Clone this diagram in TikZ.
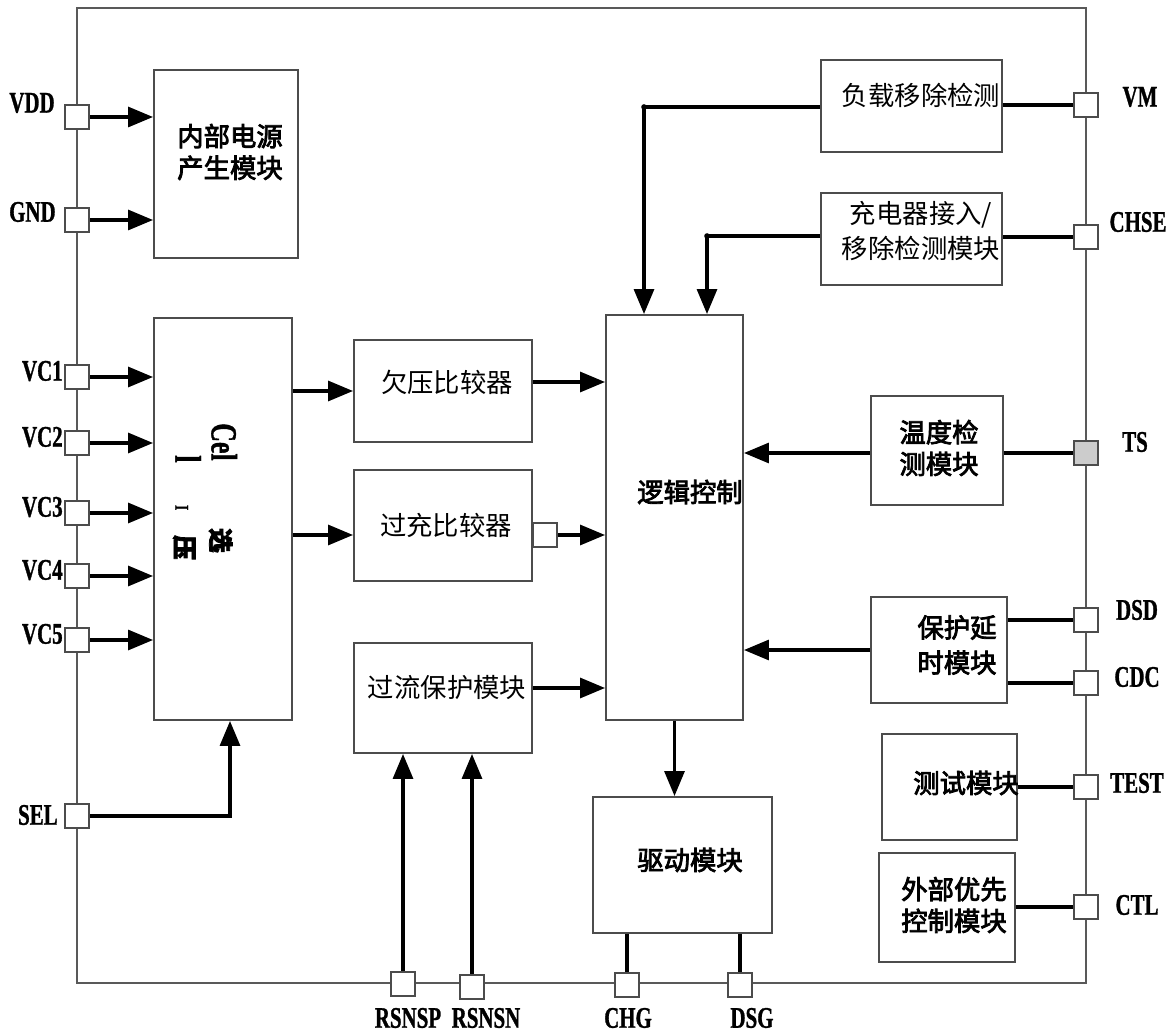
\documentclass[tikz,border=0pt]{standalone}
\usepackage{fontspec}
\setmainfont{Liberation Serif}
\newfontfamily\cjk{Noto Sans CJK SC}
\newfontfamily\cjkbf[FakeBold=3]{Noto Sans CJK SC}
\newfontfamily\padfont[FakeStretch=0.7, FakeBold=1]{Liberation Serif}
\usetikzlibrary{positioning, arrows.meta, fit}

\begin{document}
\begin{tikzpicture}[
    x=0.02cm, y=-0.02cm,
    >={Triangle[length=0.5cm, width=0.4cm]},
    % Styles for the chip blocks
    block/.style={rectangle, draw=black!70, line width=1.1pt, inner sep=0pt},
    zh/.style={font=\cjk\fontsize{15}{18}\selectfont, align=center, inner sep=0pt},
    zhb/.style={font=\cjkbf\fontsize{15}{18}\selectfont, align=center, inner sep=0pt},
    padsq/.style={rectangle, draw=black!70, line width=1.2pt, fill=white,
            minimum size=0.48cm, inner sep=0pt},
    padname/.style={font=\padfont\bfseries\fontsize{17}{17}\selectfont, inner sep=0pt},
    sig/.style={->, line width=1.8pt},
    wire/.style={line width=1.8pt},
  ]

  \useasboundingbox (0,0) rectangle (1176,1033);

  % === CHIP OUTLINE ===
  \draw[draw=black!65, line width=0.9pt] (77,8) rectangle (1086,983);

  % === BLOCKS ===
  \node[block, fit={(154,70) (298,258)}] (pwr) {};
  \node[block, fit={(154,318) (292,720)}] (cell) {};
  \node[block, fit={(354,340) (532,442)}] (uvc) {};
  \node[block, fit={(354,470) (532,581)}] (ovc) {};
  \node[block, fit={(354,643) (532,753)}] (ocp) {};
  \node[block, fit={(606,315) (743,720)}] (logic) {};
  \node[block, fit={(821,60) (1002,152)}] (ldet) {};
  \node[block, fit={(821,193) (1002,285)}] (cdet) {};
  \node[block, fit={(871,396) (1003,505)}] (temp) {};
  \node[block, fit={(871,597) (1007,703)}] (dly) {};
  \node[block, fit={(882,734) (1017,840)}] (tst) {};
  \node[block, fit={(879,853) (1015,962)}] (ext) {};
  \node[block, fit={(593,797) (772,933)}] (drv) {};

  % block texts
  \node[zhb] (pwrt) at (230,152) {内部电源\\产生模块};
  \node[padname, rotate=-90, anchor=west, font=\padfont\bfseries\fontsize{21}{21}\selectfont]
    (cellta) at (223,423) {Cel\hspace{1.35cm}{\cjkbf\fontsize{14}{14}\selectfont 选}};
  \node[padname, rotate=-90, anchor=west, font=\padfont\bfseries\fontsize{21}{21}\selectfont]
    (celltb) at (187,455) {l\hspace{0.85cm}{\fontsize{11}{11}\selectfont I}\hspace{0.5cm}{\cjkbf\fontsize{14}{14}\selectfont 压}};
  \node[zh] (uvct) at (447,382) {欠压比较器};
  \node[zh] (ovct) at (446,525) {过充比较器};
  \node[zh] (ocpt) at (447,688) {过流保护模块};
  \node[zhb] (logict) at (690,492) {逻辑控制};
  \node[zh] (ldett) at (921,95) {负载移除检测};
  \node[zh, font=\cjk\fontsize{15}{20}\selectfont] (cdett) at (921,231) {充电器接入/\\移除检测模块};
  \node[zhb] (tempt) at (939,448) {温度检\\测模块};
  \node[zhb, font=\cjkbf\fontsize{15}{20}\selectfont] (dlyt) at (957,645) {保护延\\时模块};
  \node[zhb] (tstt) at (966,783) {测试模块};
  \node[zhb] (extt) at (954,905) {外部优先\\控制模块};
  \node[zhb] (drvt) at (690,860) {驱动模块};

  % === PADS ===
  \node[padsq] (vdd) at (77,117) {};
  \node[padsq] (gnd) at (77,220) {};
  \node[padsq] (sel) at (77,816) {};
  \node[padname, anchor=east] (vddn) at (55,103) {VDD};
  \node[padname, anchor=east] (gndn) at (56,212) {GND};
  \node[padname, anchor=east] (seln) at (58,815) {SEL};
  \foreach \i/\y in {1/377, 2/443, 3/513, 4/576, 5/640} {
    \node[padsq] (vc\i) at (77,\y) {};
    \node[padname, anchor=east] (vc\i n) at (63,\y-6) {VC\i};
    \draw[sig] (vc\i) -- (vc\i -| cell.west);
  }

  \node[padsq] (vm) at (1086,105) {};
  \node[padsq] (chse) at (1086,237) {};
  \node[padsq, fill=black!20] (ts) at (1086,453) {};
  \node[padsq] (dsd) at (1086,620) {};
  \node[padsq] (cdc) at (1086,683) {};
  \node[padsq] (test) at (1086,787) {};
  \node[padsq] (ctl) at (1086,907) {};
  \node[padname] (vmn) at (1140,97) {VM};
  \node[padname] (chsen) at (1138,222) {CHSE};
  \node[padname] (tsn) at (1135,442) {TS};
  \node[padname] (dsdn) at (1137,610) {DSD};
  \node[padname] (cdcn) at (1137,677) {CDC};
  \node[padname] (testn) at (1137,783) {TEST};
  \node[padname] (ctln) at (1137,905) {CTL};

  \node[padsq] (rsp) at (403,984) {};
  \node[padsq] (rsn) at (472,987) {};
  \node[padsq] (chg) at (627,985) {};
  \node[padsq] (dsg) at (740,985) {};
  \node[padname] (rspn) at (408,1018) {RSNSP};
  \node[padname] (rsnn) at (486,1018) {RSNSN};
  \node[padname] (chgn) at (628,1018) {CHG};
  \node[padname] (dsgn) at (752,1018) {DSG};

  % small square at the overcharge comparator output
  \node[padsq] (ovsq) at (545,535) {};

  % === CONNECTIONS ===
  % supply and cell inputs
  \draw[sig] (vdd) -- (vdd -| pwr.west);
  \draw[sig] (gnd) -- (gnd -| pwr.west);
  \draw[sig] (sel) -| ([xshift=0.14cm]cell.south);

  % comparators into logic
  \draw[sig] (cell.east |- uvc.west) -- (uvc.west);
  \draw[sig] (cell.east |- ovsq) -- (ovsq -| ovc.west);
  \draw[sig] (uvc.east |- uvct) -- (uvct -| logic.west);
  \draw[sig] (ovsq) -- (ovsq -| logic.west);
  \draw[sig] (ocp.east |- ocpt) -- (ocpt -| logic.west);
  \draw[sig] (rsp) -- (rsp |- ocp.south);
  \draw[sig] (rsn) -- (rsn |- ocp.south);

  % detectors on top
  \coordinate (vmj) at (644,107);
  \coordinate (chj) at (707,236);
  \draw[sig] (ldet.west |- vmj) -- (vmj) -- (vmj |- logic.north);
  \draw[sig] (cdet.west |- chj) -- (chj) -- (chj |- logic.north);
  \fill (vmj) circle[radius=1.6pt];
  \fill (chj) circle[radius=1.6pt];
  \draw[wire] (ldet.east |- vm) -- (vm);
  \draw[wire] (cdet.east |- chse) -- (chse);

  % right side blocks
  \draw[wire] (temp.east |- ts) -- (ts);
  \draw[sig] (temp.west |- ts) -- (ts -| logic.east);
  \draw[wire] (dly.east |- dsd) -- (dsd);
  \draw[wire] (dly.east |- cdc) -- (cdc);
  \draw[sig] (dly.west) -- (dly.west -| logic.east);
  \draw[wire] (tst.east |- test) -- (test);
  \draw[wire] (ext.east |- ctl) -- (ctl);

  % driver
  \draw[sig] (logic.south) -- (logic.south |- drv.north);
  \draw[wire] (chg |- drv.south) -- (chg);
  \draw[wire] (dsg |- drv.south) -- (dsg);

\end{tikzpicture}
\end{document}
